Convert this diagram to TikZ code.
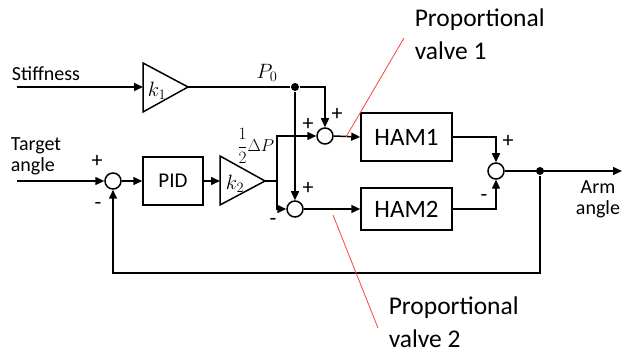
\documentclass[tikz,border=0pt]{standalone}
\usepackage{fontspec}
\setmainfont{Carlito}
\usetikzlibrary{arrows.meta}
\begin{document}
\begin{tikzpicture}[x=1pt,y=-1pt,line width=1.5pt,
  arr/.style={-{Triangle[length=9pt,width=8pt]}},
  sumnode/.style={circle,draw,minimum size=16pt,inner sep=0pt},
  blockbox/.style={draw,minimum width=91pt,inner sep=0pt},
  dotnode/.style={circle,fill,minimum size=8pt,inner sep=0pt},
  lbl/.style={font=\fontsize{20}{21}\selectfont,inner sep=0pt},
  mth/.style={font=\fontsize{20}{22}\selectfont,inner sep=0pt},
  sgn/.style={font=\fontsize{22}{22}\selectfont,inner sep=0pt},
  vlbl/.style={font=\fontsize{25.5}{33}\selectfont,align=left,anchor=north west,inner sep=0pt},
  redline/.style={draw=red!75,line width=0.8pt}]
\useasboundingbox (0,0) rectangle (627,355);
% inputs
\node[lbl] (stiff) at (46,74) {Stiffness};
\coordinate (stin) at (17,87);
\node[lbl,align=left] (target) at (36,156) {Target\\angle};
\coordinate (tin) at (17,181);
% gain k1
\coordinate (k1w) at (143,87);
\coordinate (k1e) at (188,87);
\draw (143,63) -- (188,87) -- (143,112) -- cycle;
\node[mth] (k1) at (157,91) {$k_1$};
% gain k2
\coordinate (k2w) at (220,181);
\coordinate (k2e) at (265,181);
\draw (220,156) -- (265,181) -- (220,205) -- cycle;
\node[mth] (k2) at (235,184) {$k_2$};
% blocks
\node[draw,minimum width=60pt,minimum height=48pt,inner sep=0pt,font=\fontsize{21}{22}\selectfont] (pid) at (173,181) {PID};
\node[blockbox,minimum height=48pt,font=\fontsize{25}{26}\selectfont] (ham1) at (406.5,137) {HAM1};
\node[blockbox,minimum height=42pt,font=\fontsize{25}{26}\selectfont] (ham2) at (406.5,209) {HAM2};
% sums
\node[sumnode] (s0) at (113,181) {};
\node[sumnode] (s1) at (325,136) {};
\node[sumnode] (s2) at (295,209) {};
\node[sumnode] (s3) at (496,171) {};
% dots and coordinates
\node[dotnode] (d1) at (295,87) {};
\node[dotnode] (d2) at (540,171) {};
\coordinate (br) at (277,181);
\coordinate (out) at (622,171);
\coordinate (fb) at (540,273);
% connectors
\draw[arr] (stin) -- (k1w);
\draw (k1e) -- (d1);
\draw[arr] (d1) -| (s1.north);
\draw[arr] (d1) -- (s2.north);
\draw[arr] (tin) -- (s0.west);
\draw[arr] (s0.east) -- (pid.west);
\draw[arr] (pid.east) -- (k2w);
\draw (k2e) -- (br);
\draw[arr] (br) |- (s1.west);
\draw[arr] (br) |- (s2.west);
\draw[arr] (s1.east) -- (ham1.west);
\draw[arr] (s2.east) -- (ham2.west);
\draw[arr] (ham1.east) -| (s3.north);
\draw[arr] (ham2.east) -| (s3.south);
\draw[arr] (s3.east) -- (out);
\draw[arr] (d2) -- (fb) -| (s0.south);
% math labels
\node[mth] (p0) at (267,73) {$P_0$};
\node[font=\fontsize{17}{19}\selectfont,inner sep=0pt,anchor=east] (dp) at (275,146) {$\displaystyle\frac{1}{2}\Delta P$};
% signs
\node[sgn] (sg0p) at (97,161) {+};
\node[sgn] (sg0m) at (98,206) {-};
\node[sgn] (sg1a) at (308,124) {+};
\node[sgn] (sg1b) at (337,114) {+};
\node[sgn] (sg2p) at (308,188) {+};
\node[sgn] (sg2m) at (273,222) {-};
\node[sgn] (sg3p) at (508,141) {+};
\node[sgn] (sg3m) at (484,198) {-};
% output label
\node[lbl,align=center] (arm) at (598,199) {Arm\\angle};
% valves
\node[vlbl] (pv1) at (414,8) {Proportional\\valve 1};
\node[vlbl] (pv2) at (388,296) {Proportional\\valve 2};
\coordinate (r1a) at (404,38);
\coordinate (r1b) at (346,137);
\coordinate (r2a) at (333,215);
\coordinate (r2b) at (378,328);
\draw[redline] (r1a) -- (r1b);
\draw[redline] (r2a) -- (r2b);
\end{tikzpicture}
\end{document}
